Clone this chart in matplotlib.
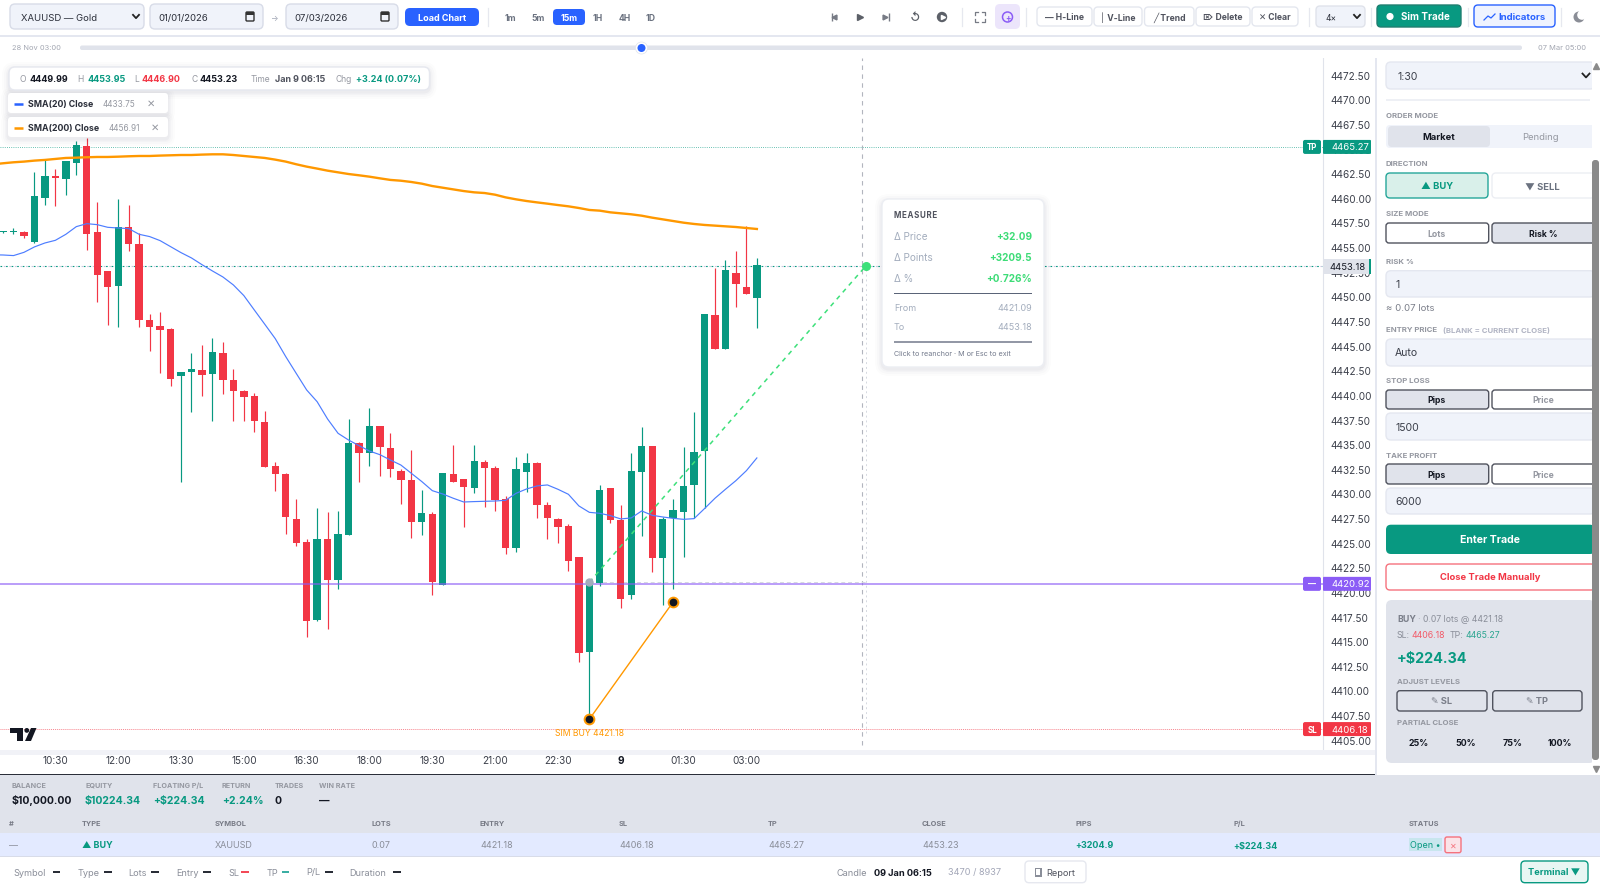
import numpy as np
from matplotlib import pyplot as plt
from matplotlib.patches import FancyBboxPatch, Rectangle, Circle, Polygon

plt.rcParams['font.family'] = ['Inter', 'DejaVu Sans']

# candles, first one sits at bar position -1
opens = [4456.60, 4456.60, 4456.60, 4455.66, 4460.12, 4462.32, 4461.98, 4463.67, 4465.40, 4456.60,
         4452.71, 4451.16, 4457.11, 4455.42, 4447.71, 4447.13, 4446.79, 4442.06, 4442.39, 4442.63,
         4442.26, 4444.39, 4441.62, 4440.49, 4439.99, 4437.35, 4432.88, 4432.10, 4427.54, 4425.17,
         4417.22, 4425.51, 4421.31, 4425.88, 4435.18, 4434.24, 4436.94, 4434.67, 4432.38, 4431.47,
         4427.24, 4428.05, 4420.81, 4432.04, 4431.53, 4430.65, 4433.26, 4432.65, 4429.50, 4424.53,
         4432.31, 4433.16, 4428.89, 4427.47, 4426.80, 4423.65, 4414.04, 4421.05, 4430.69, 4427.41,
         4419.79, 4432.24, 4434.92, 4423.52, 4427.61, 4428.25, 4430.96, 4434.44, 4448.21, 4444.76,
         4452.44, 4451.09, 4449.97]
highs = [4456.74, 4457.01, 4456.77, 4462.69, 4464.05, 4463.03, 4463.81, 4465.87, 4466.14, 4459.65,
         4452.71, 4459.95, 4459.41, 4456.50, 4448.32, 4448.55, 4446.86, 4442.46, 4444.32, 4445.17,
         4445.85, 4445.44, 4442.73, 4440.60, 4440.26, 4438.46, 4433.29, 4432.21, 4429.50, 4425.44,
         4428.59, 4428.21, 4428.31, 4437.62, 4435.32, 4438.80, 4436.94, 4436.20, 4432.55, 4434.51,
         4430.45, 4428.22, 4432.21, 4435.02, 4431.53, 4435.02, 4433.50, 4432.89, 4429.84, 4433.77,
         4434.17, 4433.26, 4429.23, 4427.64, 4426.97, 4423.65, 4421.25, 4430.96, 4430.69, 4428.93,
         4434.17, 4436.81, 4434.92, 4427.68, 4429.50, 4434.85, 4438.34, 4448.32, 4452.98, 4453.80,
         4454.74, 4457.25, 4453.96]
lows = [4456.50, 4456.43, 4456.06, 4455.56, 4459.41, 4459.31, 4460.36, 4462.46, 4454.78, 4449.53,
        4447.17, 4447.00, 4454.68, 4447.00, 4444.53, 4442.36, 4441.04, 4431.22, 4438.40, 4440.02,
        4437.48, 4440.19, 4437.48, 4437.48, 4436.30, 4432.75, 4430.38, 4425.98, 4424.80, 4415.56,
        4417.15, 4416.37, 4420.37, 4425.88, 4431.22, 4432.92, 4431.90, 4431.73, 4429.03, 4425.61,
        4425.88, 4419.79, 4420.81, 4431.30, 4426.73, 4430.11, 4428.76, 4428.32, 4423.96, 4424.19,
        4430.28, 4427.64, 4425.48, 4425.04, 4422.23, 4412.99, 4407.18, 4420.74, 4427.07, 4418.51,
        4419.35, 4425.82, 4422.16, 4418.78, 4420.37, 4423.68, 4427.57, 4428.66, 4444.76, 4444.76,
        4449.06, 4450.38, 4446.93]
closes = [4456.64, 4456.64, 4456.27, 4460.26, 4462.29, 4462.12, 4463.81, 4465.47, 4456.47, 4452.31,
          4451.06, 4457.11, 4455.39, 4447.67, 4447.00, 4446.73, 4441.75, 4442.46, 4442.73, 4442.16,
          4444.43, 4441.65, 4440.53, 4439.88, 4437.41, 4432.81, 4432.07, 4427.74, 4425.10, 4417.18,
          4425.44, 4421.31, 4425.95, 4435.25, 4434.17, 4436.94, 4434.78, 4432.58, 4431.47, 4427.24,
          4428.15, 4421.08, 4432.21, 4431.30, 4430.72, 4433.39, 4432.68, 4429.44, 4424.53, 4432.55,
          4433.16, 4428.93, 4427.57, 4426.73, 4423.28, 4413.87, 4421.25, 4430.45, 4427.41, 4419.39,
          4432.38, 4434.92, 4423.52, 4427.47, 4428.39, 4430.86, 4434.31, 4448.32, 4444.76, 4452.78,
          4451.39, 4450.38, 4453.29]

# moving averages start one bar earlier, at position -2, off the left edge
sma20 = [4454.32, 4454.30, 4454.24, 4454.57, 4455.12, 4455.52, 4455.79, 4456.40, 4457.18, 4457.48, 4457.38,
         4457.11, 4457.04, 4456.98, 4456.40, 4456.17, 4455.76, 4455.15, 4454.54, 4454.00, 4453.32,
         4452.68, 4452.07, 4451.26, 4450.18, 4448.72, 4447.27, 4445.81, 4443.99, 4442.29, 4440.60,
         4439.41, 4437.65, 4436.20, 4435.52, 4434.95, 4434.40, 4434.03, 4433.49, 4432.98, 4432.14,
         4431.30, 4430.38, 4430.04, 4429.61, 4429.23, 4429.27, 4429.30, 4429.33, 4429.40, 4430.11,
         4430.55, 4430.86, 4430.96, 4430.52, 4430.01, 4428.83, 4428.18, 4428.08, 4427.85, 4427.51,
         4427.61, 4428.32, 4427.88, 4427.71, 4427.57, 4427.47, 4427.54, 4428.56, 4429.61, 4430.52,
         4431.40, 4432.41, 4433.70]
sma200 = [4463.50, 4463.61, 4463.71, 4463.78, 4463.88, 4463.95, 4464.05, 4464.15, 4464.18, 4464.22, 4464.25,
          4464.25, 4464.28, 4464.32, 4464.35, 4464.35, 4464.39, 4464.42, 4464.45, 4464.45, 4464.49,
          4464.52, 4464.52, 4464.45, 4464.35, 4464.25, 4464.15, 4463.98, 4463.78, 4463.51, 4463.27,
          4463.07, 4462.86, 4462.69, 4462.52, 4462.39, 4462.25, 4462.08, 4461.92, 4461.84, 4461.71,
          4461.54, 4461.30, 4461.13, 4460.96, 4460.79, 4460.66, 4460.59, 4460.42, 4460.15, 4459.95,
          4459.78, 4459.64, 4459.51, 4459.37, 4459.24, 4459.07, 4458.87, 4458.80, 4458.63, 4458.53,
          4458.43, 4458.29, 4458.09, 4457.92, 4457.75, 4457.58, 4457.45, 4457.35, 4457.28, 4457.21,
          4457.14, 4457.04, 4456.94]

y_ticks = [4405 + 2.5 * i for i in range(28)]
time_pos = [4, 10, 16, 22, 28, 34, 40, 46, 52, 58, 64, 70]
time_labels = ["10:30", "12:00", "13:30", "15:00", "16:30", "18:00", "19:30", "21:00", "22:30", "9", "01:30", "03:00"]

tp_price = 4465.27
sl_price = 4406.18
cur_price = 4453.18
alert_price = 4420.92
measure_from = 4421.09
measure_to = 4453.18
trade_idx = [55, 63]
trade_prices = [4407.18, 4419.08]
measure_idx = [55, 81.4]
cross_idx = 81.0

GREEN = "#089981"
RED = "#f23645"
BLUE = "#2962ff"
ORANGE = "#ff9800"
PURPLE = "#8b5cf6"
DARK = "#131722"
GREY = "#9598a1"
LINE = "#e0e3eb"
FIELD = "#f0f3fa"
W, H = 1600, 886

fig = plt.figure(figsize=(16, 8.86), dpi=100, facecolor="white")

# chart axes, limits picked so one bar = 10.47 px and 2.5 price = 24.63 px
CL, CR, CT, CB = 0, 1323, 58, 750
PXB, PXP = 10.47, 9.852
ax = fig.add_axes([CL / W, 1 - CB / H, (CR - CL) / W, (CB - CT) / H])
ax.set_xlim((CL - 13.5) / PXB, (CR - 13.5) / PXB)
ax.set_ylim(4405 - (CB - 740.7) / PXP, 4405 + (740.7 - CT) / PXP)


def py(p):
    return 740.7 - (p - 4405) * PXP


bars = np.arange(-1, len(opens) - 1)
sma_bars = np.arange(-2, len(sma20) - 2)
o, h, l, c = map(np.array, (opens, highs, lows, closes))
cols = [GREEN if b else RED for b in c >= o]
ax.vlines(bars, l, h, colors=cols, lw=0.85, zorder=2)
ax.bar(bars, np.maximum(np.abs(c - o), 0.1), bottom=np.minimum(o, c), width=0.7, color=cols, zorder=3)

ax.plot(sma_bars, sma20, color="#4d7dff", lw=0.85, zorder=4)
ax.plot(sma_bars, sma200, color=ORANGE, lw=1.7, zorder=4)

ax.axhline(tp_price, color=GREEN, lw=0.6, ls=(0, (1, 1.6)), alpha=0.8, zorder=1)
ax.axhline(cur_price, color="#c9c4de", lw=0.8, ls=(2, (1.5, 3.5)), zorder=1)
ax.axhline(cur_price, color=GREEN, lw=0.8, ls=(0, (1.5, 3.5)), zorder=1)
ax.axhline(alert_price, color=PURPLE, lw=1.4, alpha=0.6, zorder=5)
ax.axhline(sl_price, color=RED, lw=0.7, ls=(0, (1, 1)), alpha=0.6, zorder=1)

ax.axvline(cross_idx, color="#b2b5be", lw=0.8, ls=(0, (4, 4)), zorder=1, ymin=0.007, ymax=1)
ax.plot([measure_idx[1]] * 2, [sl_price - 0.4, cur_price], color="#d5d8e0", lw=0.7, ls=(0, (2, 3)), zorder=1)
ax.plot([measure_idx[0], measure_idx[1]], [measure_from, measure_from], color="#d5d8e0", lw=0.7, ls=(0, (4, 3)), zorder=1)
ax.plot(measure_idx, [measure_from, measure_to], color="#3de07a", lw=1.1, ls=(0, (3, 3)), zorder=6)
ax.plot(measure_idx[0], measure_from, "o", color="#a3adbd", ms=5, zorder=7)
ax.plot(measure_idx[1], measure_to, "o", color="#3de07a", ms=5.5, zorder=7)

ax.plot(trade_idx, trade_prices, color=ORANGE, lw=1.0, zorder=6)
ax.plot(trade_idx, trade_prices, "o", mfc=DARK, mec=ORANGE, mew=1.4, ms=7, zorder=7)
ax.text(trade_idx[0], sl_price + 0.02, "SIM BUY 4421.18", color=ORANGE, fontsize=6.2, ha="center", va="top", zorder=7)

for s in ("top", "left", "bottom"):
    ax.spines[s].set_visible(False)
ax.spines["right"].set_color(LINE)
ax.yaxis.tick_right()
ax.set_yticks(y_ticks, [f"{v:.2f}" for v in y_ticks])
ax.tick_params(axis="y", length=0, pad=5.5, labelsize=7.2, labelcolor="#3b3f4a")
ax.set_xticks(time_pos, time_labels)
ax.tick_params(axis="x", length=0, pad=4.5, labelsize=7.2, labelcolor="#3b3f4a")
ax.get_xticklabels()[time_labels.index("9")].set_fontweight("bold")
ax.get_xticklabels()[time_labels.index("9")].set_color(DARK)

# everything around the chart lives on a pixel sized overlay
ui = fig.add_axes([0, 0, 1, 1], zorder=10)
ui.set_xlim(0, W)
ui.set_ylim(H, 0)
ui.axis("off")
ui.patch.set_alpha(0)


def box(x0, y0, x1, y1, fc="white", ec="none", r=4, lw=1.0, z=2, alpha=None):
    ui.add_patch(FancyBboxPatch((x0, y0), x1 - x0, y1 - y0, boxstyle=f"round,pad=0,rounding_size={r}",
                                fc=fc, ec=ec, lw=lw, zorder=z, alpha=alpha))


def rect(x0, y0, x1, y1, fc, z=1):
    ui.add_patch(Rectangle((x0, y0), x1 - x0, y1 - y0, fc=fc, ec="none", zorder=z))


def shadow(x0, y0, x1, y1, r=6, z=2):
    for d, a in ((7, 0.012), (5, 0.016), (3, 0.02), (1.5, 0.03)):
        box(x0 - d, y0 - d + 2, x1 + d, y1 + d + 2, fc="#1a2340", r=r + d, z=z, alpha=a)


def t(x, y, s, px=10, color=DARK, weight="normal", ha="left", z=5):
    ui.text(x, y, s, fontsize=px * 0.72, color=color, fontweight=weight, ha=ha, va="center_baseline", zorder=z)


def chevron(x, y, color="#222222", s=3):
    ui.plot([x - s, x, x + s], [y - s * 0.55, y + s * 0.55, y - s * 0.55], color=color, lw=1.3, zorder=5)


def dash(x0, x1, y, color=DARK):
    ui.plot([x0, x1], [y, y], color=color, lw=1.3, zorder=5, solid_capstyle="butt")


def divider(x):
    ui.plot([x, x], [8, 26], color="#e6e8ef", lw=0.9, zorder=5)


# top toolbar
rect(0, 0, W, 36, "white")
rect(0, 35, W, 37, "#e4e7f0")
rect(0, 37, W, 58, "white")
box(10, 4, 144, 29, FIELD, "#d8dce8", r=5)
t(21, 17, "XAUUSD — Gold", 9.5, "#2a2e39")
chevron(136, 16.5)
for x0, x1, s in ((150, 263, "01/01/2026"), (286, 398, "07/03/2026")):
    box(x0, 4, x1, 29, FIELD, "#d8dce8", r=5)
    t(x0 + 8, 17, s, 9.5, "#2a2e39")
    box(x1 - 17, 12, x1 - 9, 21, "none", "#333333", r=1, lw=1)
    rect(x1 - 17, 12, x1 - 9, 14.5, "#333333", z=4)
t(275, 17, "→", 8, "#a0a6b5", ha="center")
box(405, 8, 479, 26, BLUE, r=5)
t(442, 17, "Load Chart", 9, "white", "bold", ha="center")
divider(487.5)
box(553, 9, 585, 25, BLUE, r=4)
for x, s, col, wt in ((510, "1m", "#6b7280", "bold"), (538, "5m", "#6b7280", "bold"), (569, "15m", "white", "bold"),
                      (598, "1H", "#6b7280", "bold"), (625, "4H", "#6b7280", "bold"), (651, "1D", "#6b7280", "bold")):
    t(x, 17, s, 8.6, col, wt, ha="center")

ui.plot([832], [17], marker="|", color="#777b85", ms=6, zorder=5)
ui.plot([834], [17], marker="<", color="#777b85", ms=3.5, zorder=5)
ui.plot([860], [17], marker=">", color="#5c6068", ms=4.5, zorder=5)
ui.plot([885], [17], marker=">", color="#777b85", ms=3.5, zorder=5)
ui.plot([889], [17], marker="|", color="#777b85", ms=6, zorder=5)
t(915, 16.5, "↺", 11, "#5c6068", "bold", ha="center")
ui.add_patch(Circle((942, 17), 5.2, fc="#5c6068", ec="none", zorder=5))
ui.plot([942.5], [17], marker=">", color="white", ms=3, zorder=6)
divider(961.5)
for xs, ys in (((975, 975, 978), (15, 12, 12)), ((982, 985, 985), (12, 12, 15)),
               ((975, 975, 978), (19, 22, 22)), ((982, 985, 985), (22, 22, 19))):
    ui.plot(xs, ys, color="#777b85", lw=0.9, zorder=5)
box(995, 4, 1020, 29, "#ece5fb", r=5)
ui.add_patch(Circle((1007.5, 17), 5, fc="none", ec=PURPLE, lw=1.1, zorder=5))
t(1007.5, 17, "+", 8, PURPLE, "bold", ha="center")
divider(1026)
for x0, x1, s in ((1037, 1092, "— H-Line"), (1094, 1142, "│ V-Line"), (1144.5, 1194, "╱ Trend"),
                  (1196, 1250, "⌦ Delete"), (1252, 1298, "✕ Clear")):
    box(x0, 7, x1, 26, "white", "#e4e7ef", r=4)
    t((x0 + x1) / 2, 16.5, s, 8.6, "#50535e", "bold", ha="center")
divider(1309)
box(1316, 6, 1365, 27, FIELD, "#e0e3eb", r=4)
t(1326, 17, "4×", 8.5, "#2a2e39")
chevron(1357, 16.5)
divider(1371)
box(1377, 5, 1461, 27, GREEN, "#1f7f70", r=4)
ui.add_patch(Circle((1390, 16.5), 3.6, fc="white", ec="none", zorder=5))
t(1425, 16, "Sim Trade", 9.8, "white", "bold", ha="center")
divider(1468)
box(1474, 5, 1555, 27, "#eff3ff", BLUE, r=4)
t(1522, 16, "Indicators", 9.6, BLUE, "bold", ha="center")
ui.plot([1484, 1488, 1491, 1495], [20, 16, 18, 14], color=BLUE, lw=0.9, zorder=5)
divider(1561)
ui.add_patch(Circle((1579, 17), 5.5, fc="#8a8d96", ec="none", zorder=5))
ui.add_patch(Circle((1582, 15), 4.8, fc="white", ec="none", zorder=6))

# replay slider
t(12, 47.7, "28 Nov 03:00", 7.5, "#a3a7b2")
t(1538, 47.7, "07 Mar 05:00", 7.5, "#a3a7b2")
box(80, 45.5, 1522, 50, "#e0e3eb", r=2)
ui.add_patch(Circle((641.5, 48), 6, fc="white", ec="#e0e3eb", lw=0.5, zorder=4))
ui.add_patch(Circle((641.5, 48), 4, fc=BLUE, ec="none", zorder=5))

# ohlc strip and indicator chips
shadow(9, 67, 429.5, 90, r=6)
box(9, 67, 429.5, 90, "white", "#e6e8ef", r=6, z=3)
for x, s, col, wt in ((20, "O", GREY, "normal"), (29.5, "4449.99", DARK, "bold"), (77, "H", GREY, "normal"),
                      (87, "4453.95", GREEN, "bold"), (134, "L", GREY, "normal"), (142, "4446.90", RED, "bold"),
                      (191, "C", GREY, "normal"), (200, "4453.23", DARK, "bold"), (251, "Time", GREY, "normal"),
                      (275, "Jan 9 06:15", "#50535e", "bold"), (335, "Chg", GREY, "normal"),
                      (356, "+3.24 (0.07%)", GREEN, "bold")):
    t(x, 78.5, s, 9 if wt == "bold" else 8.5, col, wt)
for y0, col, name, val, xv, xc in ((93, BLUE, "SMA(20) Close", "4433.75", 103, 151),
                                   (117, ORANGE, "SMA(200) Close", "4456.91", 109, 155)):
    shadow(8, y0, 168, y0 + 20, r=3)
    box(8, y0, 168, y0 + 20, "white", r=3, z=3)
    ui.plot([13.5, 22.5], [y0 + 10.5] * 2, color=col, lw=1.8, zorder=5, solid_capstyle="butt")
    t(27.7, y0 + 10, name, 8.8, "#2a2e39", "bold")
    t(xv, y0 + 10, val, 8.2, GREY)
    t(xc, y0 + 10, "✕", 10, GREY, ha="center")

# price tags
for p, col, lab in ((tp_price, GREEN, "TP"), (alert_price, PURPLE, "—"), (sl_price, RED, "SL")):
    y = py(p)
    box(1303, y - 7, 1321, y + 7, col, r=2, z=4)
    t(1312, y, lab, 8, "white", "bold", ha="center")
    box(1323, y - 7, 1371, y + 7, col, r=1, z=4)
    t(1331, y, f"{p:.2f}", 9.5, "white")
rect(1323, py(cur_price) - 7, 1368.5, py(cur_price) + 7.5, LINE, z=4)
rect(1368.5, py(cur_price) - 7, 1371, py(cur_price) + 7.5, GREEN, z=4)
t(1330, py(cur_price), f"{cur_price:.2f}", 9.5, "#131722")

# TV mark
rect(10, 728, 23, 732.5, DARK, z=4)
rect(16.5, 732, 23, 741, DARK, z=4)
ui.add_patch(Circle((26.8, 730.4), 2.4, fc=DARK, ec="none", zorder=4))
ui.add_patch(Polygon([(31, 728), (36.5, 728), (31, 741), (25, 741)], fc=DARK, ec="none", zorder=4))

# measure popup
shadow(882, 199, 1044, 367, r=7, z=7)
box(882, 199, 1044, 367, "white", "#eceef3", r=7, z=8)
t(894, 214, "M E A S U R E".replace(" ", "\u200a"), 8, "#50535e", "bold", z=9)
for y, a, b in ((236, "Δ Price", "+32.09"), (257, "Δ Points", "+3209.5"), (278, "Δ %", "+0.726%")):
    t(894, y, a, 10, "#a3adbd", z=9)
    t(1032, y, b, 10, "#3ddc77", "bold", ha="right", z=9)
rect(894, 292.6, 1032, 293.6, "#5a6478", z=9)
t(894, 307.5, "From", 9, "#a3adbd", z=9)
t(1032, 307.5, "4421.09", 9, "#a3adbd", ha="right", z=9)
t(894, 327, "To", 9, "#a3adbd", z=9)
t(1032, 327, "4453.18", 9, "#a3adbd", ha="right", z=9)
rect(894, 341.3, 1032, 342.6, "#9398a6", z=9)
t(894, 353, "Click to reanchor · M or Esc to exit", 7.2, "#737a8c", z=9)

# right panel
rect(1375, 58, W, 775, "white")
rect(1375, 58, 1376.5, 775, "#e4e7f0", z=2)


def lab(y, s, x=1386):
    t(x, y, s, 7.8, GREY, "bold")


def field(y0, y1, s, x=1395):
    box(1386, y0, 1595, y1, FIELD, "#e4e7f0", r=5)
    t(x, (y0 + y1) / 2, s, 10.5, "#3b3f4a")


def toggle(y0, y1, active, a="Pips", b="Price"):
    for i, (x0, x1, s) in enumerate(((1386, 1488.7, a), (1492, 1595, b))):
        on = i == active
        box(x0, y0, x1, y1, LINE if on else "white", "#50535e", r=3, lw=1)
        t(x0 + 51, (y0 + y1) / 2, s, 8.6, DARK if on else GREY, "bold", ha="center")


field(62, 89, "1:30", x=1397)
chevron(1586, 75.5, s=3.5)
rect(1386, 99.3, 1590, 100.7, "#eef0f5")
lab(115, "ORDER MODE")
box(1386, 125, 1595, 148, FIELD, r=4)
box(1388, 126, 1490, 147, LINE, r=4)
t(1438.7, 136.3, "Market", 9.4, DARK, "bold", ha="center")
t(1540.7, 136.3, "Pending", 9.4, GREY, ha="center")
lab(163.7, "DIRECTION")
box(1386, 173, 1488, 198, "#d9f0ea", "#26a69a", r=4)
t(1437, 185.7, "▲ BUY", 9.4, GREEN, "bold", ha="center")
box(1492, 173, 1595, 198, "white", "#eceef3", r=4)
t(1542, 185.7, "▼ SELL", 9.4, "#6b7280", "bold", ha="center")
lab(213.7, "SIZE MODE")
toggle(223, 243, 1, "Lots", "Risk %")
lab(261, "RISK %")
field(270.7, 297, "1")
t(1386, 307.7, "≈ 0.07 lots", 9.6, "#7b7f8a")
lab(329.7, "ENTRY PRICE")
t(1443, 329.7, "(BLANK = CURRENT CLOSE)", 7.8, "#b2b5c4", "bold")
field(339, 366, "Auto")
lab(380, "STOP LOSS")
toggle(390, 409, 0)
field(413, 440, "1500")
lab(455, "TAKE PROFIT")
toggle(464, 484, 0)
field(488, 514, "6000")
box(1386, 524.7, 1595, 554, GREEN, r=5)
t(1489.7, 539, "Enter Trade", 10.5, "white", "bold", ha="center")
box(1386, 564, 1595, 590, "white", "#f5727d", r=4)
t(1489.7, 577, "Close Trade Manually", 9.4, RED, "bold", ha="center")

box(1386, 600, 1595, 763, LINE, r=6)
t(1397, 618.7, "BUY", 8.8, "#7b7f8a", "bold")
t(1417.5, 618.7, "· 0.07 lots @ 4421.18", 8.7, "#8a8e99")
t(1397, 634.5, "SL:", 8.8, "#8a8e99")
t(1411, 634.5, "4406.18", 8.8, "#f25a68")
t(1450, 634.5, "TP:", 8.8, "#8a8e99")
t(1465, 634.5, "4465.27", 8.8, "#2ba590")
t(1397, 658, "+$224.34", 14.4, GREEN, "bold")
lab(681, "ADJUST LEVELS", x=1397)
for x0, x1, s in ((1397, 1487, "✎ SL"), (1492.7, 1582, "✎ TP")):
    box(x0, 690.7, x1, 711, LINE, "#50535e", r=3)
    t((x0 + x1) / 2, 700.8, s, 9.2, "#7b7f8a", "bold", ha="center")
lab(722.7, "PARTIAL CLOSE", x=1397)
for x, s in ((1419, "25%"), (1466, "50%"), (1513, "75%"), (1560, "100%")):
    t(x, 742, s, 8.8, DARK, "bold", ha="center")

# scrollbar
rect(1592, 58, W, 775, "white", z=3)
box(1592, 160, 1599, 760, "#8a8a8a", r=3, z=4)
ui.plot([1596], [66], marker="^", color="#8a8a8a", ms=4, zorder=5)
ui.plot([1596], [769], marker="v", color="#8a8a8a", ms=4, zorder=5)

# bottom terminal
rect(0, 774, 1375, 775.2, "#2a2e39", z=3)
rect(0, 750, 1375, 755, "#f1f2f7", z=0)
rect(0, 775, W, 833, LINE)
rect(0, 833, W, 856, "#e3eaff")
rect(0, 856, W, 857, "#d8dce8")
rect(0, 857, W, H, "white")
for x, a, b, col in ((12, "BALANCE", "$10,000.00", DARK), (85, "EQUITY", "$10224.34", GREEN),
                     (153, "FLOATING P/L", "+$224.34", GREEN), (222, "RETURN", "+2.24%", GREEN),
                     (274.5, "TRADES", "0", DARK), (319, "WIN RATE", "—", DARK)):
    t(x, 785, a, 7.2, GREY, "bold")
    t(x, 800, b, 10.5, col, "bold")
table_x = [9, 81.6, 215, 371, 480, 619, 768, 922, 1075.5, 1233.7, 1409]
table_head = ["#", "TYPE", "SYMBOL", "LOTS", "ENTRY", "SL", "TP", "CLOSE", "PIPS", "P/L", "STATUS"]
table_row = ["—", "▲ BUY", "XAUUSD", "0.07", "4421.18", "4406.18", "4465.27", "4453.23", "+3204.9", "+$224.34", None]
for x, a, b in zip(table_x, table_head, table_row):
    t(x, 823, a, 7.4, "#787b86", "bold")
    if b is None:
        continue
    hot = b.startswith(("+", "▲"))
    t(x, 845, b, 9, GREEN if hot else "#8a8e99", "bold" if hot else "normal")
rect(1409, 837.7, 1442, 850.7, "#c8e6ee", z=2)
t(1409.5, 844.5, "Open •", 9, GREEN)
box(1445, 837, 1461, 852.7, "#fbe3e8", "#f5727d", r=2)
t(1453, 845, "✕", 8, "#f5727d", ha="center")

footer = [(13, 53, 60, "Symbol", DARK), (77.5, 104, 112, "Type", DARK), (128.6, 151, 159, "Lots", DARK),
          (176, 203, 211, "Entry", DARK), (228, 241, 249, "SL", RED), (267, 282, 289, "TP", "#26a69a"),
          (306.6, 325, 333, "P/L", DARK), (349.5, 393, 401, "Duration", DARK)]
for x, d0, d1, s, col in footer:
    t(x, 872, s, 9.2, "#8a8e99")
    dash(d0, d1, 872, col)
t(836.7, 872, "Candle", 9.2, "#8a8e99")
t(874.5, 872, "09 Jan 06:15", 9.2, DARK, "bold")
t(948, 872, "3470 / 8937", 9.2, "#a3a7b8")
box(1025, 861, 1086, 882.7, "white", "#e6e8ef", r=4)
rect(1035, 867.5, 1041.5, 876.5, "#8a8e99", z=4)
rect(1036.3, 869, 1040.3, 875, "white", z=4)
t(1046, 872, "Report", 9.2, "#50535e")
box(1521, 861, 1588, 882.7, "#e8f6f3", GREEN, r=4)
t(1554.5, 871.5, "Terminal ▼", 9.2, GREEN, "bold", ha="center")

fig.savefig("out.png", dpi=100)
